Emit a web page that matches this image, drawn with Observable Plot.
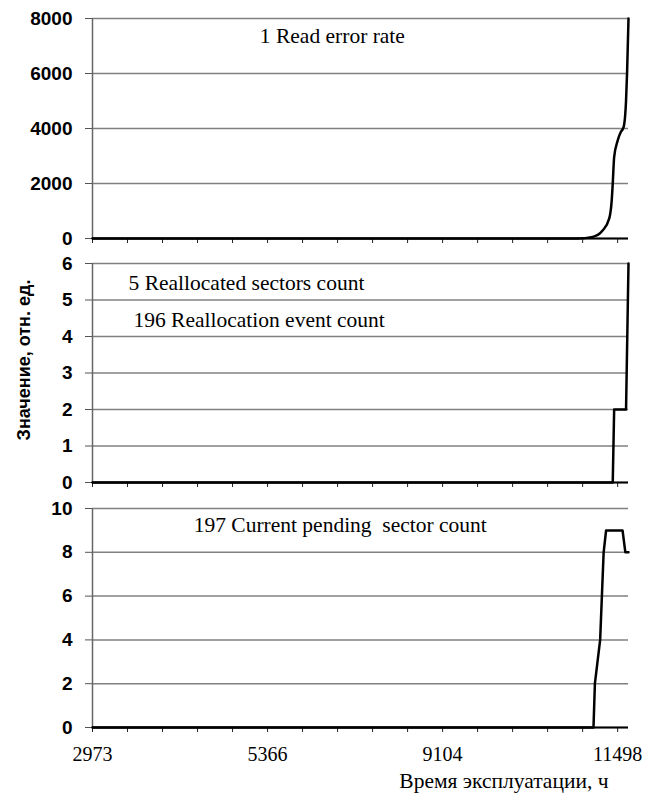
<!DOCTYPE html>
<html>
<head>
<meta charset="utf-8">
<script src="https://cdn.jsdelivr.net/npm/d3@7"></script>
<script src="https://cdn.jsdelivr.net/npm/@observablehq/plot@0.6"></script>
<style>
  body { margin: 0; background: #fff; }
  #chart { width: 658px; height: 794px; }
  #chart svg { display: block; }
</style>
</head>
<body>
<div id="chart"></div>
<script>
// X axis: measurement index (tick marks every 10 samples), labelled with operating hours
const xTickValues = [0, 10, 20, 30, 40, 50, 60, 70, 80, 90, 100, 110, 120, 130, 140, 150];
const xTickLabelAt = [0, 50, 100, 150];
const xTickLabels = ["2973", "5366", "9104", "11498"];
const xMax = 153.1;

// Panel 1: 1 Read error rate
const readErrIdx = [0, 138.5, 142.9, 145.7, 147.6, 148.3, 148.6, 149.0, 150.0, 150.9, 151.7, 152.4, 152.7, 153.1];
const readErrVal = [0, 0, 60, 290, 730, 1380, 2000, 2960, 3560, 3870, 4050, 5020, 6050, 8000];
const yTicks1 = [0, 2000, 4000, 6000, 8000];

// Panel 2: 5 Reallocated sectors count / 196 Reallocation event count (coincide)
const reallocIdx = [0, 148.6, 149.0, 152.4, 153.1];
const reallocVal = [0, 0, 2, 2, 6];
const yTicks2 = [0, 1, 2, 3, 4, 5, 6];

// Panel 3: 197 Current pending sector count
const pendingIdx = [0, 143.1, 143.5, 145.0, 145.5, 146.0, 146.7, 151.4, 152.2, 153.1];
const pendingVal = [0, 0, 2, 4, 6, 8, 9, 9, 8, 8];
const yTicks3 = [0, 2, 4, 6, 8, 10];

const SERIF = "'Liberation Serif', 'Times New Roman', serif";
const SANS = "'Liberation Sans', Arial, sans-serif";
const GRID = "#808080";

const toRows = (xs, ys) => xs.map((x, i) => ({x, y: ys[i]}));

function panel({height, marginTop, marginBottom, yDomain, yTicks, rows, curve, notes, bottomLabels, extra = []}) {
  const labelMap = new Map(xTickLabelAt.map((v, i) => [v, xTickLabels[i]]));
  return Plot.plot({
    width: 658,
    height,
    marginLeft: 92,
    marginRight: 30,
    marginTop,
    marginBottom,
    style: {background: "#fff", color: "black", overflow: "visible"},
    x: {domain: [0, xMax]},
    y: {domain: yDomain},
    marks: [
      Plot.ruleY(yTicks, {stroke: GRID, strokeWidth: 1.5}),
      Plot.ruleX([0], {stroke: "#666", strokeWidth: 1.5}),
      Plot.axisY({
        ticks: yTicks, tickSize: 7, tickPadding: 13, label: null,
        tickFormat: d => String(d),
        stroke: "#555", fill: "black",
        fontFamily: SANS, fontWeight: "bold", fontSize: 19
      }),
      Plot.axisX({
        ticks: xTickValues, tickSize: 5, tickPadding: 14, label: null,
        stroke: "#222", fill: "black",
        tickFormat: bottomLabels ? (d => labelMap.get(d) ?? "") : (() => ""),
        fontFamily: SERIF, fontSize: 20
      }),
      Plot.line(rows, {x: "x", y: "y", stroke: "black", strokeWidth: 2.5, curve}),
      Plot.ruleY([0], {stroke: "black", strokeWidth: 2}),
      ...notes.map(n => Plot.text([n.t], {
        x: () => n.x, y: () => n.y, textAnchor: "start", lineAnchor: "middle",
        fontFamily: SERIF, fontSize: 21.5, fill: "black"
      })),
      ...extra
    ]
  });
}

const chart = document.getElementById("chart");

chart.append(panel({
  height: 250, marginTop: 18, marginBottom: 12,
  yDomain: [0, 8000], yTicks: yTicks1,
  rows: toRows(readErrIdx, readErrVal), curve: "monotone-x",
  notes: [{t: "1 Read error rate", x: 47.8, y: 7345}]
}));

chart.append(panel({
  height: 245, marginTop: 13, marginBottom: 13,
  yDomain: [0, 6], yTicks: yTicks2,
  rows: toRows(reallocIdx, reallocVal), curve: "linear",
  notes: [
    {t: "5 Reallocated sectors count", x: 10.3, y: 5.45},
    {t: "196 Reallocation event count", x: 11.7, y: 4.44}
  ],
  extra: [
    Plot.text(["Значение, отн. ед."], {
      frameAnchor: "left", rotate: -90, dx: -68, dy: -13,
      textAnchor: "middle", lineAnchor: "middle",
      fontFamily: SANS, fontWeight: "bold", fontSize: 18, fill: "black"
    })
  ]
}));

chart.append(panel({
  height: 299, marginTop: 13, marginBottom: 67,
  yDomain: [0, 10], yTicks: yTicks3,
  rows: toRows(pendingIdx, pendingVal), curve: "linear",
  bottomLabels: true,
  notes: [{t: "197 Current pending\u00a0 sector count", x: 28.9, y: 9.22}],
  extra: [
    Plot.text(["Время эксплуатации, ч"], {
      frameAnchor: "bottom-right", dx: -20, dy: 54,
      textAnchor: "end", lineAnchor: "middle",
      fontFamily: SERIF, fontSize: 21.5, fill: "black"
    })
  ]
}));
</script>
</body>
</html>
